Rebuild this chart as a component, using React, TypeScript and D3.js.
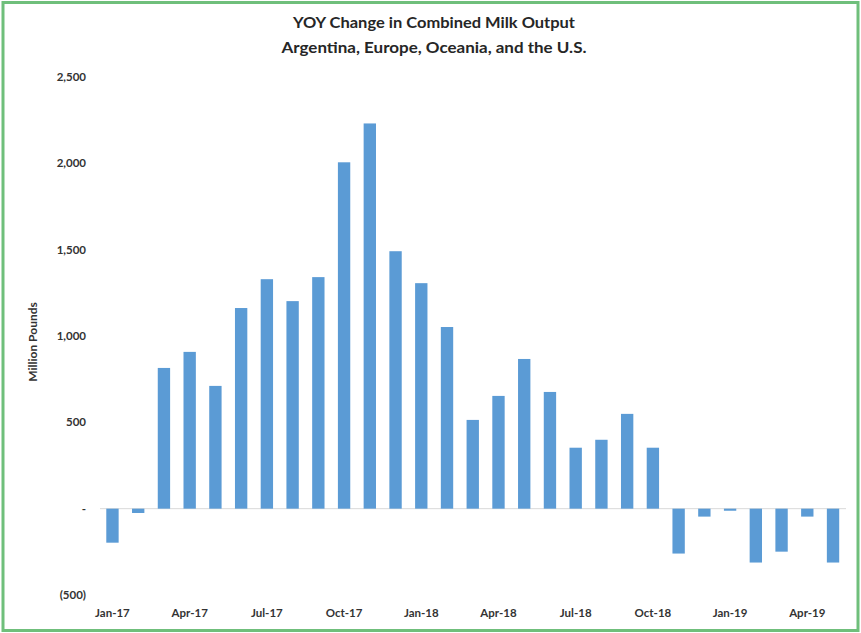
import React from "react";
import * as d3 from "d3";

const months: string[] = [
  "Jan-17","Feb-17","Mar-17","Apr-17","May-17","Jun-17","Jul-17","Aug-17","Sep-17","Oct-17","Nov-17","Dec-17",
  "Jan-18","Feb-18","Mar-18","Apr-18","May-18","Jun-18","Jul-18","Aug-18","Sep-18","Oct-18","Nov-18","Dec-18",
  "Jan-19","Feb-19","Mar-19","Apr-19","May-19",
];
const values: number[] = [
  -197, -25, 815, 908, 711, 1162, 1329, 1202, 1341, 2006, 2231, 1491,
  1306, 1052, 514, 653, 867, 676, 353, 399, 549, 353, -260, -46,
  -12, -312, -249, -46, -312,
];
const shownLabels: string[] = ["Jan-17","Apr-17","Jul-17","Oct-17","Jan-18","Apr-18","Jul-18","Oct-18","Jan-19","Apr-19"];
const yTicks: number[] = [-500, 0, 500, 1000, 1500, 2000, 2500];
const titleLines: string[] = ["YOY Change in Combined Milk Output", "Argentina, Europe, Oceania, and the U.S."];
const yTitle = "Million Pounds";

const W = 861, H = 633;
const FONT = "Lato, 'Open Sans', sans-serif";

function fmt(v: number): string {
  if (v === 0) return "-";
  const s = d3.format(",")(Math.abs(v));
  return v < 0 ? `(${s})` : s;
}

export default function App() {
  const x = d3.scaleBand<string>().domain(months).range([99.6, 845.9]).paddingInner(0.52).paddingOuter(0.26);
  const y = d3.scaleLinear().domain([-500, 2500]).range([595, 77]);
  const bw = x.bandwidth();
  const titleLens = [282, 305];
  return (
    <div style={{ position: "absolute", left: 0, top: 0 }}>
      <svg width={W} height={H} style={{ display: "block", background: "#fff" }}>
        <rect x={3} y={2.5} width={W - 6} height={H - 5} fill="#fff" stroke="#6fbf7b" strokeWidth={3} />
        {titleLines.map((t, i) => (
          <text key={i} x={434} y={28 + i * 25} textAnchor="middle" fontFamily={FONT} fontWeight="bold" fontSize={15.5}
            textLength={titleLens[i]} lengthAdjust="spacingAndGlyphs" fill="#262626">{t}</text>
        ))}
        <line x1={100} x2={846} y1={y(0)} y2={y(0)} stroke="#d9d9d9" strokeWidth={1} />
        {values.map((v, i) => (
          <rect key={months[i]} x={x(months[i])!} width={bw} y={Math.min(y(v), y(0))} height={Math.abs(y(v) - y(0))} fill="#5b9bd5" />
        ))}
        {yTicks.map((t) => (
          <text key={t} x={86} y={y(t) + 4} textAnchor="end" fontFamily={FONT} fontWeight="bold" fontSize={11.5} fill="#333">{fmt(t)}</text>
        ))}
        {shownLabels.map((m) => (
          <text key={m} x={x(m)! + bw / 2} y={617} textAnchor="middle" fontFamily={FONT} fontWeight="bold" fontSize={11.5} fill="#333">{m}</text>
        ))}
        <text transform={`translate(37,342) rotate(-90)`} textAnchor="middle" fontFamily={FONT} fontWeight="bold" fontSize={12} fill="#333">{yTitle}</text>
      </svg>
    </div>
  );
}
